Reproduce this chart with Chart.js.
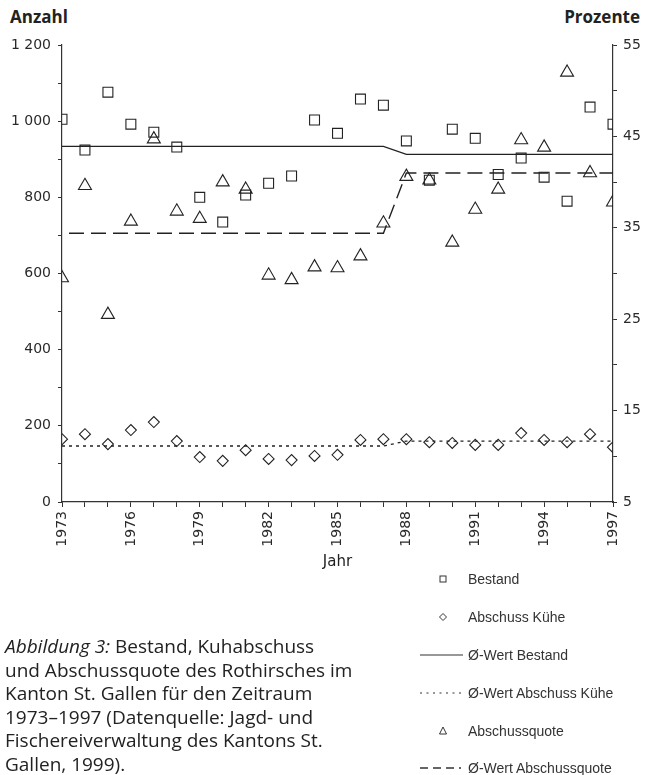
<!DOCTYPE html>
<html>
<head>
<meta charset="utf-8">
<script src="https://cdn.jsdelivr.net/npm/chart.js@4/dist/chart.umd.min.js"></script>
<style>
  html, body { margin:0; padding:0; background:#fff; }
  body { width:646px; height:775px; position:relative; overflow:hidden; font-family:"Open Sans", sans-serif; color:#222; }
  #wrap { position:absolute; left:0; top:0; width:646px; height:575px; }
  .ttl { position:absolute; font-family:"Open Sans", sans-serif; font-weight:700; font-size:17px; color:#222; line-height:20px; }
  .leg { position:absolute; left:418px; height:18px; font-family:"Liberation Sans Narrow", "Arial Narrow", sans-serif; font-size:14px; color:#333; line-height:18px; white-space:nowrap; }
  .leg svg { position:absolute; left:0; top:0; }
  .leg span { position:absolute; left:50px; top:0; }
  #cap { position:absolute; left:5px; top:635px; width:420px; font-family:"Open Sans", sans-serif; font-size:19px; line-height:23.5px; color:#222; white-space:nowrap; }
</style>
</head>
<body>
<div class="ttl" style="left:10px; top:7px;">Anzahl</div>
<div class="ttl" style="right:6px; top:7px;">Prozente</div>
<div id="wrap"><canvas id="c"></canvas></div>

<div class="leg" style="top:570px;"><svg width="50" height="18"><rect x="22" y="6" width="6" height="6" fill="none" stroke="#333" stroke-width="1"/></svg><span>Bestand</span></div>
<div class="leg" style="top:608px;"><svg width="50" height="18"><polygon points="25,5.5 28.5,9 25,12.5 21.5,9" fill="none" stroke="#333" stroke-width="1"/></svg><span>Abschuss Kühe</span></div>
<div class="leg" style="top:646px;"><svg width="50" height="18"><line x1="2" y1="9" x2="45" y2="9" stroke="#333" stroke-width="1.2"/></svg><span>Ø-Wert Bestand</span></div>
<div class="leg" style="top:684px;"><svg width="50" height="18"><line x1="2" y1="9" x2="46" y2="9" stroke="#333" stroke-width="1.2" stroke-dasharray="2 4.5"/></svg><span>Ø-Wert Abschuss Kühe</span></div>
<div class="leg" style="top:722px;"><svg width="50" height="18"><polygon points="25,5 28.5,12 21.5,12" fill="none" stroke="#333" stroke-width="1"/></svg><span>Abschussquote</span></div>
<div class="leg" style="top:759px;"><svg width="50" height="18"><line x1="2" y1="9" x2="47" y2="9" stroke="#333" stroke-width="1.4" stroke-dasharray="8 5 8 5 8 5 2"/></svg><span>Ø-Wert Abschussquote</span></div>

<div id="cap"><i>Abbildung 3:</i> Bestand, Kuhabschuss<br>und Abschussquote des Rothirsches im<br>Kanton St. Gallen für den Zeitraum<br>1973–1997 (Datenquelle: Jagd- und<br>Fischereiverwaltung des Kantons St.<br>Gallen, 1999).</div>

<script>
// ---- data ----
const years = [1973,1974,1975,1976,1977,1978,1979,1980,1981,1982,1983,1984,1985,1986,1987,1988,1989,1990,1991,1992,1993,1994,1995,1996,1997];
const bestand = [1005,924,1076,992,971,932,800,735,806,837,856,1003,968,1058,1042,948,845,979,955,860,903,853,790,1037,992];
const abschussKuehe = [165,178,152,189,210,160,118,108,136,113,110,121,124,163,165,165,157,155,150,150,181,163,157,178,144];
const abschussquote = [29.5,39.6,25.5,35.7,44.7,36.8,36.0,40.0,39.2,29.8,29.3,30.7,30.6,31.9,35.5,40.6,40.2,33.4,37.0,39.2,44.6,43.8,52.0,41.0,37.8];
const mittelBestand = [934,934,934,934,934,934,934,934,934,934,934,934,934,934,934,913,913,913,913,913,913,913,913,913,913];
const mittelKuehe = [147,147,147,147,147,147,147,147,147,147,147,147,147,147,147,160,160,160,160,160,160,160,160,160,160];
const mittelQuote = [34.4,34.4,34.4,34.4,34.4,34.4,34.4,34.4,34.4,34.4,34.4,34.4,34.4,34.4,34.4,41.0,41.0,41.0,41.0,41.0,41.0,41.0,41.0,41.0,41.0];
const yearLabels = [1973,1976,1979,1982,1985,1988,1991,1994,1997];
const leftLabels = [0,200,400,600,800,1000,1200];
const rightLabels = [5,15,25,35,45,55];

const pts = arr => arr.map((v,i) => ({x: years[i], y: v}));
const INK = '#222';
const tickFont = {family: 'DejaVu Sans', size: 14};

new Chart(document.getElementById('c'), {
  type: 'scatter',
  data: {
    datasets: [
      {label:'Bestand', data: pts(bestand), yAxisID:'y', pointStyle:'rect', pointRadius:7, borderColor:INK, borderWidth:1.1, backgroundColor:'rgba(0,0,0,0)'},
      {label:'Abschuss Kühe', data: pts(abschussKuehe), yAxisID:'y', pointStyle:'rectRot', pointRadius:5.5, borderColor:INK, borderWidth:1.1, backgroundColor:'rgba(0,0,0,0)'},
      {label:'Abschussquote', data: pts(abschussquote), yAxisID:'y2', pointStyle:'triangle', pointRadius:7.5, borderColor:INK, borderWidth:1.1, backgroundColor:'rgba(0,0,0,0)'},
      {label:'Ø-Wert Bestand', data: pts(mittelBestand), yAxisID:'y', showLine:true, pointRadius:0, borderColor:INK, borderWidth:1.3, tension:0},
      {label:'Ø-Wert Abschuss Kühe', data: pts(mittelKuehe), yAxisID:'y', showLine:true, pointRadius:0, borderColor:INK, borderWidth:1.3, borderDash:[3,4], tension:0},
      {label:'Ø-Wert Abschussquote', data: pts(mittelQuote), yAxisID:'y2', showLine:true, pointRadius:0, borderColor:INK, borderWidth:1.4, borderDash:[15,7], borderDashOffset:15, tension:0}
    ]
  },
  options: {
    responsive: true,
    maintainAspectRatio: false,
    animation: false,
    devicePixelRatio: 1,
    layout: {padding: {top:45, left:0, right:0, bottom:0}},
    plugins: {legend:{display:false}, tooltip:{enabled:false}, title:{display:false}},
    scales: {
      x: {
        type:'linear', position:'bottom', min:1973, max:1997,
        afterFit: s => { s.height = 73; },
        ticks: {stepSize:1, autoSkip:false, maxRotation:90, minRotation:90, padding:4, font:tickFont, color:'#2a2a2a',
          callback: v => yearLabels.includes(v) ? String(v) : ''},
        grid: {drawOnChartArea:false, drawTicks:true, tickLength:5, color:'#333', lineWidth:1},
        border: {display:true, color:'#333', width:1.2},
        title: {display:true, text:'Jahr', font:{family:'DejaVu Sans', size:15}, color:'#222', padding:{top:0, bottom:4}}
      },
      y: {
        type:'linear', position:'left', min:0, max:1200,
        afterFit: s => { s.width = 62; },
        ticks: {stepSize:100, padding:7, font:tickFont, color:'#2a2a2a',
          callback: v => leftLabels.includes(v) ? String(v).replace(/\B(?=(\d{3})+(?!\d))/g, ' ') : ''},
        grid: {drawOnChartArea:false, drawTicks:true, tickLength:4, color:'#333', lineWidth:1},
        border: {display:true, color:'#333', width:1.2}
      },
      y2: {
        type:'linear', position:'right', min:5, max:55,
        afterFit: s => { s.width = 33; },
        ticks: {stepSize:5, padding:6, font:tickFont, color:'#2a2a2a',
          callback: v => rightLabels.includes(v) ? String(v) : ''},
        grid: {drawOnChartArea:false, drawTicks:true, tickLength:4, color:'#333', lineWidth:1},
        border: {display:true, color:'#333', width:1.2}
      }
    }
  }
});
</script>
</body>
</html>
